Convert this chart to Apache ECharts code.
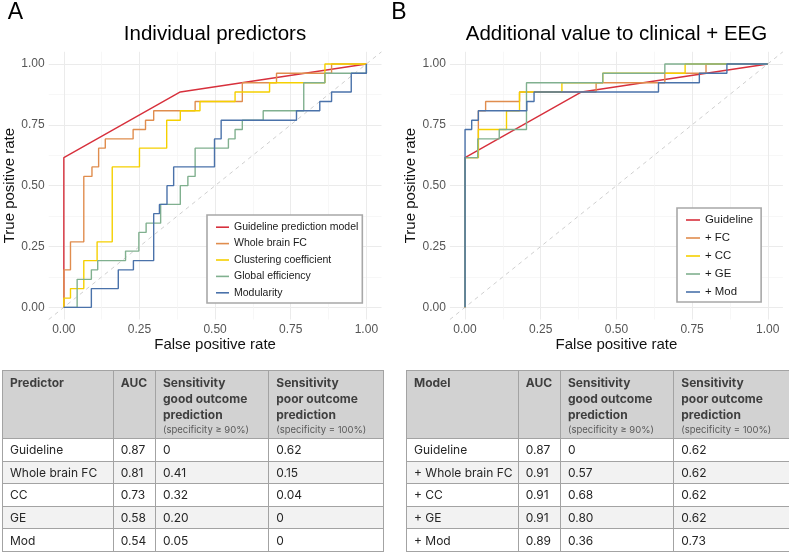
<!DOCTYPE html>
<html>
<head>
<meta charset="utf-8">
<script src="https://cdn.jsdelivr.net/npm/echarts@6/dist/echarts.min.js"></script>
<style>
  body { margin: 0; background: #fff; }
  #wrap { position: relative; width: 789px; height: 553px; overflow: hidden; }
  #chart { position: absolute; left: 0; top: 0; width: 789px; height: 553px; }
  table.tb { position: absolute; border-collapse: collapse; table-layout: fixed;
    font-family: Inter, "Liberation Sans", sans-serif; font-size: 12px; color: #262626; }
  .tb td, .tb th { border: 1px solid #a3a3a3; padding: 0 0 0 7px; box-sizing: border-box;
    text-align: left; vertical-align: middle; overflow: hidden; white-space: nowrap; }
  .tb th { background: #d2d2d2; font-weight: 700; color: #3f3f3f; vertical-align: top;
    padding-top: 4px; line-height: 16px; height: 68px; }
  .tb th small { display: block; font-weight: 400; font-size: 9.5px; color: #5a5a5a; line-height: 14px; }
  .tb tr.r td { height: 22.6px; }
  .tb tr.alt td { background: #f2f2f2; }
</style>
</head>
<body>
<div id="wrap">
  <div id="chart"></div>
  <table class="tb" id="tabA" style="left:2px;top:370px;width:381px"></table>
  <table class="tb" id="tabB" style="left:406px;top:370px;width:383px"></table>
</div>
<script>
// ---- ROC curves, panel A (individual predictors) ----
// points = top of each vertical step (fpr, tpr)
const guideFpr = [0, 0, 0.385, 1];
const guideTpr = [0, 0.615, 0.885, 1];

const fcA_fpr = [0, 0, 0.022, 0.066, 0.093, 0.115, 0.137, 0.229, 0.27, 0.297, 0.434, 0.59, 0.703, 0.885, 1];
const fcA_tpr = [0, 0.154, 0.269, 0.538, 0.577, 0.654, 0.692, 0.731, 0.769, 0.808, 0.846, 0.923, 0.962, 1, 1];

const ccA_fpr = [0, 0, 0.022, 0.066, 0.11, 0.16, 0.25, 0.34, 0.385, 0.45, 0.566, 0.68, 0.863, 1];
const ccA_tpr = [0, 0.038, 0.077, 0.192, 0.269, 0.577, 0.654, 0.769, 0.808, 0.846, 0.885, 0.923, 1, 1];

const geA_fpr = [0, 0.044, 0.091, 0.112, 0.204, 0.248, 0.272, 0.32, 0.385, 0.41, 0.434, 0.544, 0.566, 0.59, 0.659, 0.793, 0.863, 1];
const geA_tpr = [0, 0.115, 0.154, 0.192, 0.231, 0.308, 0.346, 0.423, 0.5, 0.538, 0.654, 0.692, 0.731, 0.769, 0.808, 0.923, 0.962, 1];

const modA_fpr = [0, 0.091, 0.18, 0.23, 0.297, 0.316, 0.341, 0.363, 0.498, 0.52, 0.769, 0.846, 0.885, 0.95, 1];
const modA_tpr = [0, 0.077, 0.154, 0.192, 0.385, 0.423, 0.5, 0.577, 0.692, 0.769, 0.808, 0.846, 0.885, 0.962, 1];

// ---- ROC curves, panel B (added to clinical + EEG) ----
const fcB_fpr = [0, 0, 0.044, 0.068, 0.18, 0.433, 0.66, 0.796, 1];
const fcB_tpr = [0, 0.615, 0.808, 0.846, 0.885, 0.923, 0.962, 1, 1];

const ccB_fpr = [0, 0, 0.044, 0.137, 0.18, 0.32, 0.455, 0.727, 1];
const ccB_tpr = [0, 0.615, 0.731, 0.808, 0.885, 0.923, 0.962, 1, 1];

const geB_fpr = [0, 0, 0.042, 0.113, 0.203, 0.455, 0.66, 1];
const geB_tpr = [0, 0.615, 0.692, 0.731, 0.923, 0.962, 1, 1];

const modB_fpr = [0, 0, 0.022, 0.044, 0.204, 0.228, 0.639, 0.774, 0.865, 1];
const modB_tpr = [0, 0.731, 0.769, 0.808, 0.846, 0.885, 0.923, 0.962, 1, 1];

const namesA = ['Guideline prediction model', 'Whole brain FC', 'Clustering coefficient', 'Global efficiency', 'Modularity'];
const namesB = ['Guideline', '+ FC', '+ CC', '+ GE', '+ Mod'];
const colors = ['#d7303c', '#e08d4e', '#f5d000', '#80b08f', '#4a72aa'];

const majorTicks = [0, 0.25, 0.5, 0.75, 1];
const minorTicks = [0.125, 0.375, 0.625, 0.875];

// ---- tables ----
const headA = 'Predictor';
const headB = 'Model';
const rowsA = ['Guideline', 'Whole brain FC', 'CC', 'GE', 'Mod'];
const aucA = ['0.87', '0.81', '0.73', '0.58', '0.54'];
const goodA = ['0', '0.41', '0.32', '0.20', '0.05'];
const poorA = ['0.62', '0.15', '0.04', '0', '0'];
const rowsB = ['Guideline', '+ Whole brain FC', '+ CC', '+ GE', '+ Mod'];
const aucB = ['0.87', '0.91', '0.91', '0.91', '0.89'];
const goodB = ['0', '0.57', '0.68', '0.80', '0.36'];
const poorB = ['0.62', '0.62', '0.62', '0.62', '0.73'];

function buildTable(el, first, names, auc, good, poor, widths) {
  let h = '<colgroup>' + widths.map(w => '<col style="width:' + w + 'px">').join('') + '</colgroup>';
  h += '<tr><th>' + first + '</th><th>AUC</th>' +
    '<th>Sensitivity<br>good outcome<br>prediction<small>(specificity \u2265 90%)</small></th>' +
    '<th>Sensitivity<br>poor outcome<br>prediction<small>(specificity = 100%)</small></th></tr>';
  names.forEach((n, i) => {
    h += '<tr class="r' + (i % 2 ? ' alt' : '') + '"><td>' + n + '</td><td>' + auc[i] +
      '</td><td>' + good[i] + '</td><td>' + poor[i] + '</td></tr>';
  });
  document.getElementById(el).innerHTML = h;
}
buildTable('tabA', headA, rowsA, aucA, goodA, poorA, [110.7, 42.3, 113.3, 114.7]);
buildTable('tabB', headB, rowsB, aucB, goodB, poorB, [111.7, 42.3, 113.3, 115.7]);

// ---- chart ----
const FONT = '"Liberation Sans", Arial, sans-serif';
const zip = (xs, ys) => xs.map((x, i) => [x, ys[i]]);

function mainAxis(grid, name, isX) {
  return {
    type: 'value', gridIndex: grid, min: -0.05, max: 1.05,
    name: name, nameLocation: 'middle', nameGap: isX ? 18 : 30,
    nameTextStyle: { fontFamily: FONT, fontSize: 15, color: '#111' },
    axisLine: { show: false },
    axisTick: { show: false, customValues: majorTicks },
    axisLabel: { customValues: majorTicks, margin: 4, fontFamily: FONT, fontSize: 12, color: '#555',
      formatter: v => v.toFixed(2) },
    splitLine: { show: true, lineStyle: { color: '#ebebeb', width: 1 } }
  };
}
function minorAxis(grid) {
  return {
    type: 'value', gridIndex: grid, min: -0.05, max: 1.05,
    axisLine: { show: false },
    axisTick: { show: false, customValues: minorTicks },
    axisLabel: { show: false, customValues: minorTicks },
    splitLine: { show: true, lineStyle: { color: '#f3f3f3', width: 0.7 } }
  };
}

const curves = [
  [namesA, [[guideFpr, guideTpr], [fcA_fpr, fcA_tpr], [ccA_fpr, ccA_tpr], [geA_fpr, geA_tpr], [modA_fpr, modA_tpr]]],
  [namesB, [[guideFpr, guideTpr], [fcB_fpr, fcB_tpr], [ccB_fpr, ccB_tpr], [geB_fpr, geB_tpr], [modB_fpr, modB_tpr]]]
];

const series = [];
curves.forEach(([names, sets], p) => {
  series.push({
    type: 'line', xAxisIndex: p * 2, yAxisIndex: p * 2, silent: true, showSymbol: false,
    data: [[-0.05, -0.05], [1.05, 1.05]],
    lineStyle: { color: '#cfcfcf', width: 1, type: [4, 4] }
  });
  sets.forEach(([xs, ys], i) => {
    series.push({
      name: names[i], type: 'line', xAxisIndex: p * 2, yAxisIndex: p * 2,
      showSymbol: false, step: i === 0 ? false : 'end',
      data: zip(xs, ys), color: colors[i],
      lineStyle: { color: colors[i], width: 1.4 }
    });
  });
});

function legend(names, left, top, fs, lh, iw, pad) {
  return {
    data: names, orient: 'vertical', left: left, top: top, selectedMode: false,
    icon: 'rect', itemWidth: iw, itemHeight: 1.6, itemGap: 0, padding: pad,
    borderColor: '#a8a8a8', borderWidth: 1.6, backgroundColor: '#fff',
    textStyle: { fontFamily: FONT, fontSize: fs, color: '#1a1a1a', lineHeight: lh }
  };
}

const chart = echarts.init(document.getElementById('chart'), null, { renderer: 'canvas' });
chart.setOption({
  animation: false,
  backgroundColor: '#fff',
  grid: [
    { left: 48.7, top: 51.8, width: 332.8, height: 267.7 },
    { left: 449.9, top: 51.8, width: 333, height: 267.7 }
  ],
  xAxis: [mainAxis(0, 'False positive rate', true), minorAxis(0), mainAxis(1, 'False positive rate', true), minorAxis(1)],
  yAxis: [mainAxis(0, 'True positive rate', false), minorAxis(0), mainAxis(1, 'True positive rate', false), minorAxis(1)],
  legend: [
    legend(namesA, 207, 215, 10.5, 16.4, 13, [4, 4, 2, 9]),
    legend(namesB, 677, 208, 11.4, 18, 14, [3, 8, 1, 9])
  ],
  graphic: [
    { type: 'text', x: 15.5, y: 13, style: { text: 'A', font: '23px ' + FONT, fill: '#000', textAlign: 'center', textVerticalAlign: 'middle' } },
    { type: 'text', x: 399, y: 13, style: { text: 'B', font: '23px ' + FONT, fill: '#000', textAlign: 'center', textVerticalAlign: 'middle' } },
    { type: 'text', x: 215, y: 34, style: { text: 'Individual predictors', font: '20.5px ' + FONT, fill: '#000', textAlign: 'center', textVerticalAlign: 'middle' } },
    { type: 'text', x: 616.5, y: 34, style: { text: 'Additional value to clinical + EEG', font: '20.5px ' + FONT, fill: '#000', textAlign: 'center', textVerticalAlign: 'middle' } }
  ],
  series: series
});
</script>
</body>
</html>
